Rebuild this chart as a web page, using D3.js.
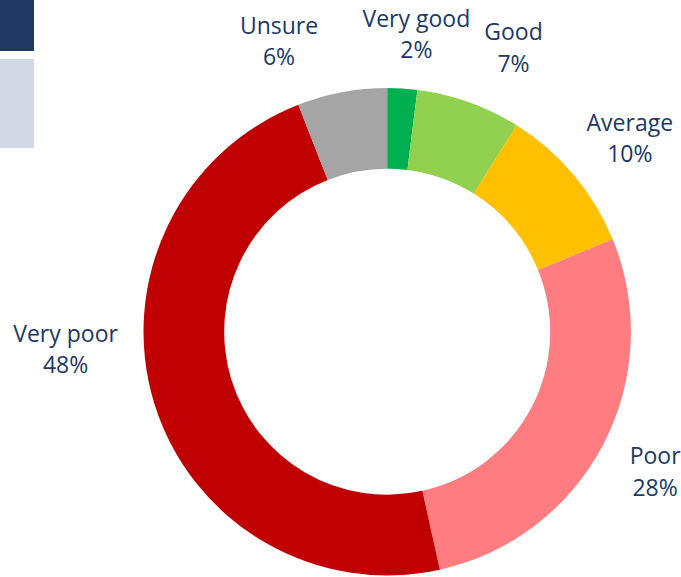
<!DOCTYPE html>
<html>
<head>
<meta charset="utf-8">
<script src="https://cdn.jsdelivr.net/npm/d3@7"></script>
<style>
  html, body { margin: 0; padding: 0; background: #ffffff; }
  svg { display: block; }
</style>
</head>
<body>
<div id="chart"></div>
<script>
// Survey rating shares (percent), clockwise from twelve o'clock
const categories = ["Very good", "Good", "Average", "Poor", "Very poor", "Unsure"];
const shares = [2, 7, 10, 28, 48, 6];
const sliceColors = ["#00B050", "#92D050", "#FFC000", "#FF7C80", "#C00000", "#A5A5A5"];

// Legend swatches at the top-left edge
const legendColors = ["#1F3864", "#D1D9E6"];

const width = 681, height = 577;
const cx = 387.2, cy = 331.7;
const outerR = 243.7, innerR = 163;
const labelR = 308;
const textColor = "#203864";
const fontSize = 23, lineGap = 31.5;

// Hand-placed label offsets from the slice centroid (best-fit placement)
const labelOffset = {
  "Very good": [10, 10],
  "Good": [23, 6],
  "Average": [7, 5],
  "Poor": [-5, -3],
  "Very poor": [-27, -72],
  "Unsure": [-51, 12]
};

const data = categories.map((c, i) => ({ category: c, value: shares[i], color: sliceColors[i] }));

const svg = d3.select("#chart").append("svg")
  .attr("width", width)
  .attr("height", height)
  .attr("viewBox", `0 0 ${width} ${height}`);

// Legend swatches
const legendY = d3.scaleOrdinal().domain([0, 1]).range([0, 59]);
const legendH = d3.scaleOrdinal().domain([0, 1]).range([51, 89]);
svg.append("g").selectAll("rect")
  .data(legendColors)
  .join("rect")
  .attr("x", 0)
  .attr("y", (d, i) => legendY(i))
  .attr("width", 34)
  .attr("height", (d, i) => legendH(i))
  .attr("fill", d => d);

const pie = d3.pie()
  .sort(null)
  .value(d => d.value)
  .startAngle(0)
  .endAngle(2 * Math.PI);

const arcs = pie(data);

const arc = d3.arc().innerRadius(innerR).outerRadius(outerR);
const labelArc = d3.arc().innerRadius(labelR).outerRadius(labelR);

const g = svg.append("g").attr("transform", `translate(${cx},${cy})`);

g.selectAll("path.slice")
  .data(arcs)
  .join("path")
  .attr("class", "slice")
  .attr("d", arc)
  .attr("fill", d => d.data.color);

// Two-line labels: category name over its percentage
const labels = g.selectAll("text.label")
  .data(arcs)
  .join("text")
  .attr("class", "label")
  .attr("text-anchor", "middle")
  .attr("font-family", "'Open Sans', sans-serif")
  .attr("font-size", fontSize)
  .attr("fill", textColor)
  .attr("transform", d => {
    const [x, y] = labelArc.centroid(d);
    const off = labelOffset[d.data.category] || [0, 0];
    return `translate(${x + off[0]},${y + off[1]})`;
  });

labels.append("tspan")
  .attr("x", 0)
  .attr("y", -7.5)
  .text(d => d.data.category);

labels.append("tspan")
  .attr("x", 0)
  .attr("y", -7.5 + lineGap)
  .text(d => d.data.value + "%");
</script>
</body>
</html>
